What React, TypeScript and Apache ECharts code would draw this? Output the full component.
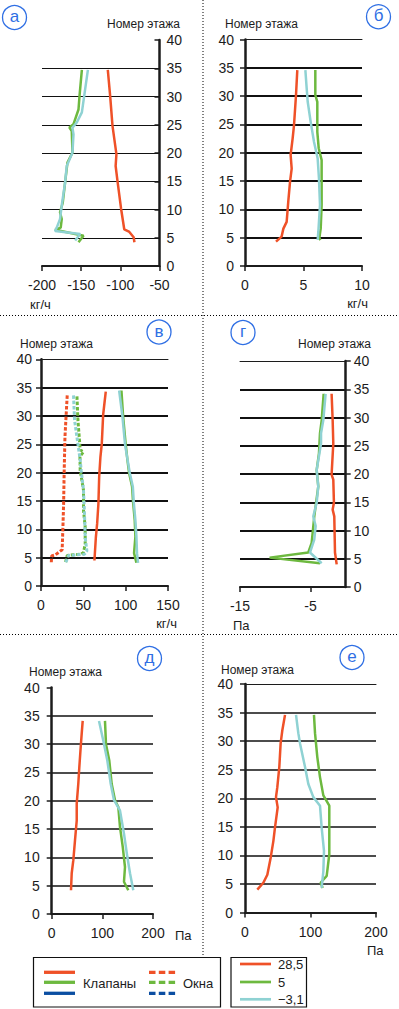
import React, { useEffect, useRef } from "react";
import * as echarts from "echarts";

const RED = "#EF5128";
const GREEN = "#6DB93F";
const CYAN = "#8FD2D3";
const NAVY = "#0B4EA2";
const BLUE = "#2F6FE4";
const INK = "#1c1c1c";
const FONT = "Liberation Sans, Arial, sans-serif";

// ---- data: [floor, value] ----
// а : кг/ч (клапаны)
const A_RED = [[4.2, -82], [5.1, -83], [6.1, -89], [6.5, -95], [10.1, -99], [14.9, -103.5], [17.7, -106], [19.8, -105], [24.8, -110], [30.1, -113], [34.7, -116]];
const A_GREEN = [[4.2, -153.4], [5.35, -147], [6.4, -183.3], [6.8, -176.1], [8.3, -174.8], [9.5, -177], [11.2, -173.5], [14.8, -170.5], [18.3, -167.5], [20.1, -161.1], [23.9, -162], [24.5, -165], [25.1, -159.8], [27.7, -153.4], [30.1, -152.1], [34.7, -149.1]];
const A_CYAN = [[4.5, -157.7], [5.65, -151.3], [6.2, -183.3], [6.8, -181.2], [8.3, -177], [10.7, -174.8], [14.8, -170.5], [17.7, -168.4], [20.1, -161.1], [23.3, -159.8], [24.5, -161.1], [25.4, -155.6], [27.2, -149.1], [31.3, -144.9], [34.7, -141.4]];
// б : кг/ч
const B_RED = [[4.3, 2.65], [5.2, 3.13], [6.6, 3.28], [7.8, 3.56], [11.4, 3.7], [14.9, 3.85], [17.2, 3.99], [19.6, 3.9], [22.5, 4.07], [24.9, 4.19], [30.2, 4.36], [34.6, 4.47]];
const B_GREEN = [[4.6, 6.45], [4.9, 6.35], [6.6, 6.47], [10.8, 6.55], [18.7, 6.55], [20.8, 6.3], [23.7, 6.18], [29, 6.18], [30.2, 6.01], [34.6, 6.01]];
const B_CYAN = [[4.6, 6.21], [6.1, 6.27], [10.8, 6.41], [15.5, 6.32], [19, 6.21], [21.9, 5.9], [25.5, 5.61], [29, 5.36], [31.4, 5.27], [34.6, 5.16]];
// в : кг/ч, клапаны (solid) и окна (dotted)
const V_RED = [[4.5, 63.1], [8.6, 64.8], [11, 66.3], [14.5, 67.8], [19.2, 68.7], [22.8, 70.2], [25.1, 71.8], [30.2, 73.4], [32.2, 74.9], [34.3, 76.5]];
const V_GREEN = [[4.1, 112.7], [5.8, 109.9], [8.7, 111.5], [11.6, 110.7], [14.9, 108.7], [17.5, 107.6], [20, 104], [22.2, 102.1], [24.9, 100.1], [29.9, 97], [34.5, 95]];
const V_CYAN = [[4.1, 114.6], [5.8, 113.4], [8.7, 112.7], [11.6, 111.5], [14.9, 109.5], [17.5, 108.5], [20, 104.8], [24.9, 99.3], [29.9, 96.2], [34.5, 92.3]];
const V_RED_WIN = [[4.2, 12.2], [5.3, 12.5], [5.5, 17], [6.4, 25], [10.4, 25.9], [14.5, 26.7], [20.4, 27.4], [26.3, 28.3], [30.2, 29.7], [33.7, 31]];
const V_GREEN_WIN = [[4.2, 29], [5.4, 31], [5.6, 46.3], [5.9, 50.2], [7.4, 52.2], [10.4, 52.2], [13.3, 50.2], [16.9, 50.2], [18.6, 48.3], [20.4, 46.3], [22.8, 46], [23.7, 50.2], [24, 46.3], [29.3, 43.6], [33.7, 42.4]];
const V_CYAN_WIN = [[4.2, 29.4], [5.4, 32.5], [5.6, 51.4], [6.2, 54.2], [8.6, 52.2], [12.7, 51.4], [16.9, 50.2], [20.4, 47.5], [22.2, 46.3], [26.3, 42.4], [29.3, 39.6], [33.7, 38.4]];
// г : Па
const G_RED = [[4, -1.28], [6.1, -1.52], [12.5, -1.62], [13.7, -1.85], [14.9, -1.67], [19, -1.76], [19.9, -2.0], [25.4, -1.76], [29.5, -1.85], [34.2, -2.0]];
const G_GREEN = [[4.2, -3.65], [5.2, -10.8], [6.1, -5.31], [7.8, -4.83], [12.5, -4.46], [17.8, -3.89], [20.7, -4.12], [23.7, -3.79], [27.2, -3.65], [29.5, -3.41], [34.2, -3.13]];
const G_CYAN = [[4.2, -3.41], [6.1, -5.07], [8.4, -4.46], [10.8, -4.26], [12.5, -4.6], [14.9, -4.12], [17.8, -3.89], [20.7, -4.12], [25.4, -3.5], [27.2, -3.5], [29.5, -3.18], [34.2, -2.85]];
// д : Па
const D_RED = [[4.2, 38.1], [7.2, 39.5], [9.5, 42.7], [13, 46], [16.5, 49.4], [19.5, 49.4], [23, 52.5], [25.9, 54.5], [29.4, 57.2], [31.8, 59.2], [34.1, 61.2]];
const D_GREEN = [[4.2, 151.2], [5.7, 142.7], [8.3, 144.7], [11.9, 140.2], [15.4, 134.8], [18.9, 131.5], [20.1, 125], [23, 118.4], [27.1, 113.7], [30, 107.2], [34.1, 105.2]];
const D_CYAN = [[4.2, 161.1], [7.2, 154.6], [10.1, 149.3], [14.2, 142.7], [18.3, 134.8], [20.1, 123], [23, 116.5], [27.1, 109.8], [30.6, 101.9], [34.1, 93.4]];
// е : Па
const E_RED = [[4, 18.8], [5.2, 28], [6.6, 34.1], [9.6, 39.2], [12.5, 43.3], [14.9, 45.8], [18.4, 49.9], [20.2, 47.3], [21.9, 49.3], [25.5, 52.4], [29.6, 54.4], [31.9, 57], [34.6, 61.1]];
const E_GREEN = [[4.3, 118.6], [5.2, 115.5], [6.4, 124.7], [7.8, 126.2], [10.2, 128.7], [18.7, 128.7], [20.5, 119.6], [23.7, 114.5], [27.2, 110.4], [31.4, 106.9], [34.6, 105.3]];
const E_CYAN = [[4.3, 117], [7.2, 119.6], [10.8, 120.6], [14.9, 117], [18.7, 114.5], [20.2, 104.3], [22.5, 96.7], [25.5, 91.6], [29.6, 84], [31.4, 81.4], [34.6, 77.9]];

const PANEL_LETTERS = ["а", "б", "в", "г", "д", "е"];
const Y_AXIS_TITLE = "Номер этажа";
const UNITS = ["кг/ч", "кг/ч", "кг/ч", "Па", "Па", "Па"];
const X_LIMITS = [[-200, -50, 50], [0, 10, 5], [0, 150, 50], [-15, 0, 5], [0, 200, 100], [0, 200, 100]];
const G_X_LABELS = [-15, -5];
const LEGEND_TYPES = ["Клапаны", "Окна"];
const LEGEND_TEMPS = ["28,5", "5", "−3,1"];

type Line = { pts: number[][]; color: string; dotted?: boolean };
const SERIES: Line[][] = [
  [{ pts: A_RED, color: RED }, { pts: A_GREEN, color: GREEN }, { pts: A_CYAN, color: CYAN }],
  [{ pts: B_RED, color: RED }, { pts: B_GREEN, color: GREEN }, { pts: B_CYAN, color: CYAN }],
  [
    { pts: V_RED_WIN, color: RED, dotted: true },
    { pts: V_GREEN_WIN, color: GREEN, dotted: true },
    { pts: V_CYAN_WIN, color: CYAN, dotted: true },
    { pts: V_RED, color: RED },
    { pts: V_GREEN, color: GREEN },
    { pts: V_CYAN, color: CYAN },
  ],
  [{ pts: G_RED, color: RED }, { pts: G_GREEN, color: GREEN }, { pts: G_CYAN, color: CYAN }],
  [{ pts: D_RED, color: RED }, { pts: D_GREEN, color: GREEN }, { pts: D_CYAN, color: CYAN }],
  [{ pts: E_RED, color: RED }, { pts: E_GREEN, color: GREEN }, { pts: E_CYAN, color: CYAN }],
];

// layout
const LAYOUT = [
  { grid: { left: 42, top: 40, width: 117.5, height: 226 }, right: true, yMargin: 7, gridW: 1, top: false, inside: true },
  { grid: { left: 245, top: 39.5, width: 117, height: 226.5 }, right: false, yMargin: 11, gridW: 2, top: true, inside: false },
  { grid: { left: 41, top: 359.3, width: 127, height: 226.7 }, right: false, yMargin: 9, gridW: 2, top: true, inside: false },
  { grid: { left: 240, top: 361, width: 105.7, height: 226 }, right: true, yMargin: 8, gridW: 2, top: true, inside: false },
  { grid: { left: 51.7, top: 687.5, width: 101.3, height: 226.5 }, right: false, yMargin: 12, gridW: 1.7, top: false, inside: false },
  { grid: { left: 245, top: 684, width: 131, height: 228.5 }, right: false, yMargin: 12, gridW: 1.7, top: true, inside: false },
];

const CIRCLES = [[14.5, 17.5], [378.5, 16.7], [159, 332], [243, 332.5], [149.5, 658.5], [352, 657.5]];
const TITLE_POS = [[107, 23.5], [225, 24], [20, 344], [298, 344], [29, 672], [221, 669.5]];
const UNIT_POS = [[30, 304, "left"], [368, 303.5, "right"], [177, 623.5, "right"], [233, 625, "left"], [175, 935, "left"], [367, 950, "left"]];

const txt = (text: string, x: number, y: number, size: number, color: string, align = "left") => ({
  type: "text",
  x,
  y,
  silent: true,
  style: { text, fill: color, font: `${size}px ${FONT}`, align, textAlign: align, verticalAlign: "middle", textVerticalAlign: "middle" },
});

const hline = (x1: number, x2: number, y: number, color: string, w: number, dash?: number[]) => ({
  type: "line",
  silent: true,
  shape: { x1, y1: y, x2, y2: y },
  style: { stroke: color, lineWidth: w, lineDash: dash },
});

export default function App() {
  const ref = useRef<HTMLDivElement>(null);
  useEffect(() => {
    if (!ref.current) return;
    const chart = echarts.init(ref.current, undefined, { renderer: "svg" });

    const grids: any[] = [];
    const xAxes: any[] = [];
    const yAxes: any[] = [];
    const series: any[] = [];
    const topAxes: any[] = [];

    LAYOUT.forEach((L, i) => {
      const [xmin, xmax, xstep] = X_LIMITS[i];
      grids.push({ ...L.grid, containLabel: false });
      const label: any = { fontSize: 14, color: INK, fontFamily: FONT, margin: 12 };
      const tick: any = { show: true, length: 5, lineStyle: { color: INK, width: 1.5 } };
      if (i === 3) {
        label.customValues = G_X_LABELS;
        tick.customValues = G_X_LABELS;
      }
      xAxes.push({
        type: "value",
        gridIndex: i,
        position: "bottom",
        min: xmin,
        max: xmax,
        interval: xstep,
        axisLine: { show: true, onZero: false, lineStyle: { color: INK, width: 2 } },
        axisTick: tick,
        axisLabel: label,
        splitLine: { show: false },
      });
      yAxes.push({
        type: "value",
        gridIndex: i,
        position: L.right ? "right" : "left",
        min: 0,
        max: 40,
        interval: 5,
        axisLine: { show: true, onZero: false, lineStyle: { color: INK, width: 2.5 } },
        axisTick: { show: true, inside: L.inside, length: 5, lineStyle: { color: INK, width: 1.5 } },
        axisLabel: { fontSize: 14, color: INK, fontFamily: FONT, margin: L.yMargin },
        splitLine: { show: true, showMinLine: false, showMaxLine: false, lineStyle: { color: "#111", width: L.gridW } },
      });
      if (L.top) {
        topAxes.push({
          type: "value",
          gridIndex: i,
          position: "top",
          min: xmin,
          max: xmax,
          axisLine: { show: true, onZero: false, lineStyle: { color: INK, width: 1 } },
          axisTick: { show: false },
          axisLabel: { show: false },
          splitLine: { show: false },
        });
      }
      SERIES[i].forEach((s) => {
        series.push({
          type: "line",
          xAxisIndex: i,
          yAxisIndex: i,
          data: s.pts.map(([f, v]) => [v, f]),
          symbol: "none",
          showSymbol: false,
          silent: true,
          z: 3,
          lineStyle: s.dotted
            ? { color: s.color, width: 3, type: [3.5, 1.8] }
            : { color: s.color, width: 2.5, type: "solid" },
        });
      });
    });

    const graphic: any[] = [];
    // separators
    graphic.push({ type: "line", silent: true, shape: { x1: 203, y1: 0, x2: 203, y2: 956 }, style: { stroke: "#000", lineWidth: 1, lineDash: [1, 2] } });
    graphic.push(hline(0, 399, 315.5, "#000", 1, [1, 2]));
    graphic.push(hline(0, 399, 634.5, "#000", 1, [1, 2]));

    PANEL_LETTERS.forEach((l, i) => {
      const [cx, cy] = CIRCLES[i];
      graphic.push({ type: "circle", silent: true, shape: { cx, cy, r: 12 }, style: { fill: "#fff", stroke: BLUE, lineWidth: 1.3 } });
      graphic.push(txt(l, cx, cy - 1, 17, BLUE, "center"));
      const [tx, ty] = TITLE_POS[i];
      graphic.push(txt(Y_AXIS_TITLE, tx, ty, 12, INK));
      const [ux, uy, ua] = UNIT_POS[i] as [number, number, string];
      graphic.push(txt(UNITS[i], ux, uy, 13, INK, ua));
    });

    // legend box 1
    graphic.push({ type: "rect", silent: true, shape: { x: 33.5, y: 957.5, width: 187, height: 49.5 }, style: { fill: "none", stroke: "#111", lineWidth: 1.2 } });
    [RED, GREEN, NAVY].forEach((c, k) => {
      const y = [972.3, 982.3, 993.3][k];
      graphic.push(hline(44, 75, y, c, 3.3));
      graphic.push(hline(149, 175.5, y, c, 3.3, [6.5, 3.3]));
    });
    graphic.push(txt(LEGEND_TYPES[0], 83, 983, 13, INK));
    graphic.push(txt(LEGEND_TYPES[1], 183, 983, 13, INK));
    // legend box 2
    graphic.push({ type: "rect", silent: true, shape: { x: 231, y: 957.5, width: 75.5, height: 49.5 }, style: { fill: "none", stroke: "#111", lineWidth: 1.2 } });
    [RED, GREEN, CYAN].forEach((c, k) => {
      const y = [964, 982, 999.3][k];
      graphic.push(hline(240, 271, y, c, 2.7));
      graphic.push(txt(LEGEND_TEMPS[k], 278, y, 13, INK));
    });

    chart.setOption({
      animation: false,
      backgroundColor: "#fff",
      grid: grids,
      xAxis: [...xAxes, ...topAxes],
      yAxis: yAxes,
      series,
      graphic,
    });
    return () => chart.dispose();
  }, []);
  return <div ref={ref} style={{ position: "absolute", left: 0, top: 0, width: 399, height: 1009 }} />;
}
